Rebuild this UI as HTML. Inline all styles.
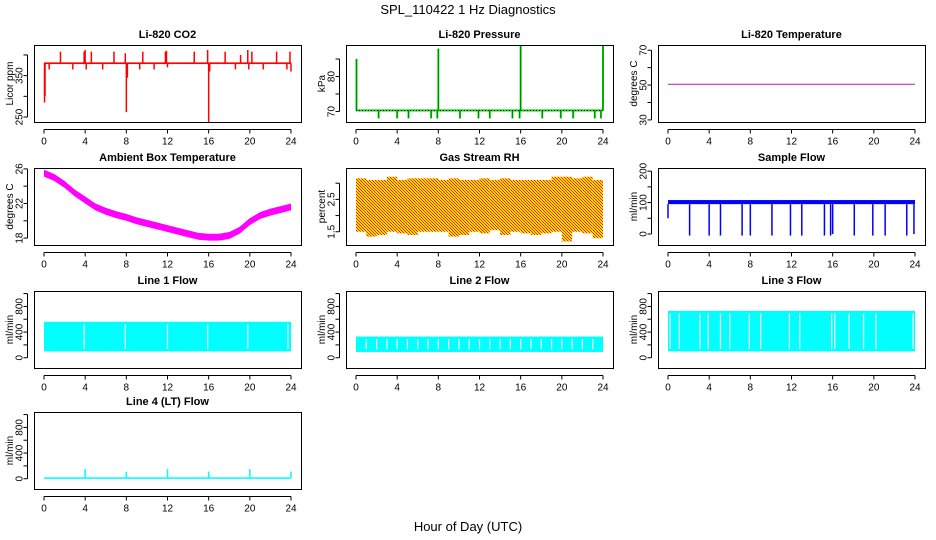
<!DOCTYPE html>
<html><head><meta charset="utf-8"><style>
html,body{margin:0;padding:0;background:#fff;}
svg{display:block;font-family:"Liberation Sans",sans-serif;}
</style></head><body>
<svg id="chart" width="936" height="540" viewBox="0 0 936 540" xmlns="http://www.w3.org/2000/svg">
<defs>
<pattern id="rhpat" width="3" height="3" patternUnits="userSpaceOnUse">
<rect width="3" height="3" fill="#ffdd00"/><rect x="0" y="0" width="1" height="1" fill="#ee2200"/><rect x="1" y="1" width="1" height="1" fill="#ee2200"/><rect x="2" y="2" width="1" height="1" fill="#ee2200"/>
</pattern>
</defs>
<text x="468" y="14" text-anchor="middle" font-size="13">SPL_110422  1 Hz Diagnostics</text>
<text x="468" y="531" text-anchor="middle" font-size="13">Hour of Day (UTC)</text>
</svg>
<script>
// ---- data ----
const xTicks = [0,4,8,12,16,20,24];
const co2Base = 380;
const co2SpikeHours = [0.05,0.1,0.5,1.6,2.8,3.9,4.0,4.1,4.6,5.7,6.8,7.9,8.0,8.1,9.3,9.6,10.7,11.8,11.9,12.0,14.6,15.9,16.0,16.1,17.6,18.6,19.1,19.8,19.9,20.2,21.3,22.6,23.6,23.9,24.0];
const co2SpikeValues = [285,300,365,408,365,408,412,365,408,365,408,404,262,345,365,408,365,408,410,370,408,412,238,360,408,365,400,412,365,408,365,408,365,408,360];
const presHours = [0.05,2.2,4.0,5.1,7.3,7.9,8.0,10.1,11.9,13.0,15.2,15.9,16.0,18.1,19.9,21.1,23.2,23.8,24.0];
const presValues = [85,68,68,68,68,68,88,68,68,68,68,68,89,68,68,68,68,68,89];
const presBase = 70.3;
const tempValue = 50.5;
const ambHours = [0,1,2,3,4,5,6,7,8,9,10,11,12,13,14,15,16,17,18,19,20,21,22,23,24];
const ambValues = [25.5,25.0,24.2,23.2,22.4,21.6,21.1,20.7,20.4,20.0,19.7,19.4,19.1,18.8,18.5,18.2,18.1,18.1,18.3,18.9,19.9,20.6,21.0,21.3,21.6];
const rhHours = [0,1,2,3,4,5,6,7,8,9,10,11,12,13,14,15,16,17,18,19,20,21,22,23,24];
const rhMax = [3.15,3.1,3.1,3.2,3.1,3.15,3.15,3.15,3.1,3.15,3.1,3.1,3.15,3.1,3.15,3.1,3.1,3.1,3.1,3.2,3.2,3.15,3.2,3.1,3.1];
const rhMin = [1.5,1.35,1.4,1.5,1.45,1.4,1.5,1.5,1.5,1.35,1.4,1.5,1.45,1.55,1.4,1.5,1.45,1.4,1.45,1.5,1.2,1.5,1.45,1.3,1.5];
const sfBase = [95,108];
const sfDropHours = [0.0,2.1,4.0,5.1,7.2,8.0,10.1,11.9,13.0,15.2,15.8,16.0,18.1,19.9,21.1,23.2,23.9];
const sfDropValues = [50,-5,-5,-5,-5,-5,-5,-5,-5,-5,-5,0,-5,-5,-5,-5,0];
const l1Range = [100,560];
const l1Gaps = [3.9,7.9,12.0,15.9,19.8,23.7];
const l2Range = [90,330];
const l2Gaps = [1.0,2.0,3.0,4.0,5.0,6.0,7.0,8.0,9.0,10.0,11.0,12.0,13.0,14.0,15.0,16.0,17.0,18.0,19.0,20.0,21.0,22.0,23.0];
const l3Range = [100,730];
const l3Gaps = [0.2,1.1,3.1,3.9,5.1,6.0,7.9,9.0,11.8,12.8,15.9,16.2,17.6,19.0,20.2,23.8];
const l4Base = 10;
const l4SpikeHours = [4,8,12,16,20,24];
const l4SpikeValues = [150,110,150,110,150,110];
const co2Ticks=[250,300,350,400], co2Labels=[250,350];
const presTicks=[70,75,80,85], presLabels=[70,80];
const tempTicks=[30,40,50,60,70], tempLabels=[30,50,70];
const ambTicks=[18,20,22,24,26], ambLabels=[18,22,26];
const rhTicks=[1.5,2,2.5,3], rhLabels=[1.5,2.5];
const sfTicks=[0,50,100,150,200], sfLabels=[0,100,200];
const flowTicks=[0,200,400,600,800,1000], flowLabels=[0,400,800];

const svg=document.getElementById('chart');
const NS='http://www.w3.org/2000/svg';
function el(tag,attrs,parent){const e=document.createElementNS(NS,tag);for(const k in attrs)e.setAttribute(k,attrs[k]);(parent||svg).appendChild(e);return e;}

function panel(col,row,title,ylab,ylim,ticks,labels,name){
  const x0=34+312*col, y0=[45,168,291,412][row], w=267, h=77;
  const g=el('g',{});
  
  
  const P={g,x0,y0,w,h,
    x:v=>x0+10+v/24*247,
    y:v=>y0+h-(v-ylim[0])/(ylim[1]-ylim[0])*h};
  P.plot=el('g',{},g);
  
  
  P.finish=function(){
    const b=el('rect',{x:x0+0.5,y:y0+0.5,width:w,height:h,fill:'none',stroke:'#000','stroke-width':1},g);
    
    
    const t=el('text',{x:x0+w/2,y:y0-7,'text-anchor':'middle','font-size':11,'font-weight':'bold'},g);
    t.textContent=title;
    
    
    const xa=el('g',{},g);
    
    
    const by=y0+h+7.5;
    el('line',{x1:P.x(0),x2:P.x(24),y1:by,y2:by,stroke:'#000'},xa);
    xTicks.forEach(v=>{el('line',{x1:P.x(v),x2:P.x(v),y1:by,y2:by+4,stroke:'#000'},xa);
      const tl=el('text',{x:P.x(v),y:by+15,'text-anchor':'middle','font-size':10},xa);tl.textContent=v;});
    const ya=el('g',{},g);
    
    
    const ax=x0-6.5;
    el('line',{x1:ax,x2:ax,y1:P.y(ticks[0]),y2:P.y(ticks[ticks.length-1]),stroke:'#000'},ya);
    ticks.forEach(v=>{el('line',{x1:ax,x2:ax-4,y1:P.y(v),y2:P.y(v),stroke:'#000'},ya);});
    labels.forEach(v=>{const yy=P.y(v);const tl=el('text',{x:ax-5,y:yy,'text-anchor':'middle','font-size':10,transform:`rotate(-90 ${ax-5} ${yy})`},ya);tl.textContent=v;});
    const yt=el('text',{x:x0-21,y:y0+h/2,'text-anchor':'middle','font-size':10,transform:`rotate(-90 ${x0-21} ${y0+h/2})`},g);
    yt.textContent=ylab;
    
    
  };
  return P;
}
function vline(P,h,a,b,color,wd){el('line',{x1:P.x(h),x2:P.x(h),y1:P.y(a),y2:P.y(b),stroke:color,'stroke-width':wd||1.5},P.plot);}
function hband(P,a,b,color,h0,h1){const y1=P.y(b),y2=P.y(a);el('rect',{x:P.x(h0==null?0:h0),y:y1,width:P.x(h1==null?24:h1)-P.x(h0==null?0:h0),height:Math.max(1.5,y2-y1),fill:color},P.plot);}

let P=panel(0,0,'Li-820 CO2','Licor ppm',[238,424],co2Ticks,co2Labels,'co2');
hband(P,co2Base-2,co2Base+2,'#ff0000');
co2SpikeHours.forEach((h,i)=>vline(P,h,co2Base,co2SpikeValues[i],'#ff0000',1.5));
P.finish();
P=panel(1,0,'Li-820 Pressure','kPa',[67,89],presTicks,presLabels,'pressure');
hband(P,presBase-0.3,presBase+0.3,'#00dd00');
el('line',{x1:P.x(0),x2:P.x(24),y1:P.y(presBase),y2:P.y(presBase),stroke:'#000','stroke-dasharray':'1,2'},P.plot);
presHours.forEach((h,i)=>{vline(P,h,presBase,presValues[i],'#00dd00',2);el('line',{x1:P.x(h),x2:P.x(h),y1:P.y(presBase),y2:P.y(presValues[i]),stroke:'#000','stroke-dasharray':'1,1','stroke-width':0.8},P.plot);});
P.finish();
P=panel(2,0,'Li-820 Temperature','degrees C',[28.8,73],tempTicks,tempLabels,'licor-temp');
el('line',{x1:P.x(0),x2:P.x(24),y1:P.y(tempValue),y2:P.y(tempValue),stroke:'#aa22aa','stroke-width':1},P.plot);
P.finish();
P=panel(0,1,'Ambient Box Temperature','degrees C',[17.2,26.1],ambTicks,ambLabels,'ambient-temp');
{let up=ambHours.map((h,i)=>P.x(h)+','+P.y(ambValues[i]+0.4)).join(' ');
 let dn=ambHours.map((h,i)=>P.x(h)+','+P.y(ambValues[i]-0.4)).reverse().join(' ');
 el('polygon',{points:up+' '+dn,fill:'#ff00ff'},P.plot);}
P.finish();
P=panel(1,1,'Gas Stream RH','percent',[1.09,3.47],rhTicks,rhLabels,'gas-rh');
rhHours.forEach((h,i)=>{if(i<rhHours.length-1){const a=P.x(h),b=P.x(rhHours[i+1]);el('rect',{x:a,y:P.y(rhMax[i]),width:b-a,height:P.y(rhMin[i])-P.y(rhMax[i]),fill:'url(#rhpat)'},P.plot);}});
P.finish();
P=panel(2,1,'Sample Flow','ml/min',[-35,210],sfTicks,sfLabels,'sample-flow');
hband(P,sfBase[0],sfBase[1],'#0000ff');
sfDropHours.forEach((h,i)=>vline(P,h,sfBase[0],sfDropValues[i],'#0000ff',1.5));
P.finish();
function flow(col,row,title,range,gaps,name){
  const Q=panel(col,row,title,'ml/min',[-160,1040],flowTicks,flowLabels,name);
  hband(Q,range[0],range[1],'#00ffff');
  gaps.forEach(h=>el('line',{x1:Q.x(h),x2:Q.x(h),y1:Q.y(range[1]-40),y2:Q.y(range[0]+40),stroke:'#fff','stroke-width':1.2},Q.plot));
  Q.finish();
}
flow(0,2,'Line 1 Flow',l1Range,l1Gaps,'line1-flow');
flow(1,2,'Line 2 Flow',l2Range,l2Gaps,'line2-flow');
flow(2,2,'Line 3 Flow',l3Range,l3Gaps,'line3-flow');
P=panel(0,3,'Line 4 (LT) Flow','ml/min',[-160,1040],flowTicks,flowLabels,'line4-flow');
hband(P,l4Base-12,l4Base+12,'#00ffff');
l4SpikeHours.forEach((h,i)=>vline(P,h,l4Base,l4SpikeValues[i],'#00ffff',1.5));
P.finish();
</script>
</body></html>
